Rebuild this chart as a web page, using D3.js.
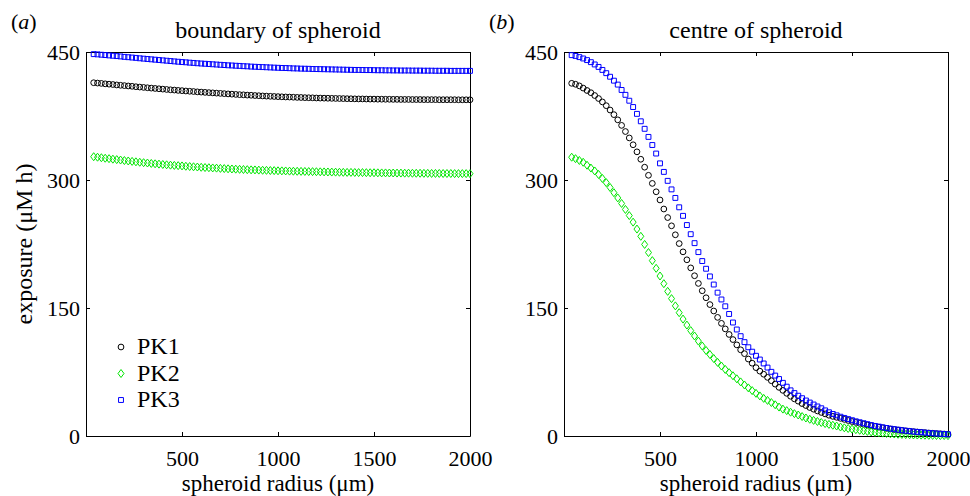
<!DOCTYPE html>
<html>
<head>
<meta charset="utf-8">
<script src="https://cdn.jsdelivr.net/npm/d3@7"></script>
<style>
  body { margin: 0; background: #fff; }
  text { font-family: "Liberation Serif", "Times New Roman", serif; fill: #000; }
</style>
</head>
<body>
<div class="canvas"></div>
<script>
// spheroid radius (um)
const radius = [
  40, 60, 80, 100, 120, 140, 160, 180, 200, 220,
  240, 260, 280, 300, 320, 340, 360, 380, 400, 420,
  440, 460, 480, 500, 520, 540, 560, 580, 600, 620,
  640, 660, 680, 700, 720, 740, 760, 780, 800, 820,
  840, 860, 880, 900, 920, 940, 960, 980, 1000, 1020,
  1040, 1060, 1080, 1100, 1120, 1140, 1160, 1180, 1200, 1220,
  1240, 1260, 1280, 1300, 1320, 1340, 1360, 1380, 1400, 1420,
  1440, 1460, 1480, 1500, 1520, 1540, 1560, 1580, 1600, 1620,
  1640, 1660, 1680, 1700, 1720, 1740, 1760, 1780, 1800, 1820,
  1840, 1860, 1880, 1900, 1920, 1940, 1960, 1980, 2000
];

// exposure at the boundary of the spheroid (uM h)
const boundaryPK1 = [
  414.0, 413.6, 413.2, 412.7, 412.3, 411.9, 411.4, 411.0, 410.6, 410.2,
  409.8, 409.3, 408.9, 408.5, 408.1, 407.7, 407.3, 406.9, 406.5, 406.1,
  405.7, 405.4, 405.0, 404.7, 404.3, 404.0, 403.7, 403.3, 403.0, 402.7,
  402.4, 402.1, 401.8, 401.5, 401.2, 400.9, 400.6, 400.3, 400.0, 399.8,
  399.5, 399.3, 399.0, 398.8, 398.5, 398.3, 398.1, 397.9, 397.7, 397.5,
  397.3, 397.2, 397.0, 396.8, 396.7, 396.5, 396.4, 396.3, 396.1, 396.0,
  395.9, 395.8, 395.7, 395.6, 395.5, 395.4, 395.3, 395.2, 395.1, 395.0,
  395.0, 394.9, 394.8, 394.8, 394.7, 394.7, 394.6, 394.6, 394.5, 394.5,
  394.4, 394.4, 394.4, 394.3, 394.3, 394.3, 394.2, 394.2, 394.2, 394.2,
  394.1, 394.1, 394.1, 394.1, 394.1, 394.0, 394.0, 394.0, 394.0
];
const boundaryPK2 = [
  327.3, 326.7, 326.1, 325.5, 325.0, 324.4, 323.9, 323.4, 322.8, 322.3,
  321.8, 321.3, 320.8, 320.3, 319.9, 319.4, 319.0, 318.6, 318.2, 317.8,
  317.4, 317.1, 316.8, 316.5, 316.1, 315.8, 315.5, 315.2, 314.9, 314.6,
  314.4, 314.1, 313.9, 313.6, 313.4, 313.1, 312.9, 312.7, 312.5, 312.3,
  312.1, 311.9, 311.8, 311.6, 311.4, 311.3, 311.1, 311.0, 310.8, 310.7,
  310.6, 310.4, 310.3, 310.2, 310.1, 310.0, 309.9, 309.8, 309.7, 309.6,
  309.5, 309.4, 309.3, 309.2, 309.1, 309.0, 308.9, 308.9, 308.8, 308.7,
  308.7, 308.6, 308.5, 308.5, 308.4, 308.3, 308.3, 308.2, 308.2, 308.1,
  308.1, 308.0, 308.0, 307.9, 307.9, 307.9, 307.8, 307.8, 307.7, 307.7,
  307.7, 307.6, 307.6, 307.6, 307.5, 307.5, 307.5, 307.5, 307.4
];
const boundaryPK3 = [
  447.5, 447.2, 446.8, 446.4, 446.0, 445.6, 445.2, 444.8, 444.3, 443.9,
  443.5, 443.1, 442.6, 442.2, 441.8, 441.4, 441.0, 440.6, 440.2, 439.8,
  439.4, 439.0, 438.6, 438.2, 437.9, 437.5, 437.2, 436.8, 436.5, 436.2,
  435.9, 435.6, 435.3, 435.0, 434.7, 434.4, 434.2, 433.9, 433.7, 433.4,
  433.2, 432.9, 432.7, 432.5, 432.3, 432.1, 431.9, 431.7, 431.5, 431.3,
  431.2, 431.0, 430.8, 430.7, 430.5, 430.4, 430.3, 430.1, 430.0, 429.9,
  429.8, 429.7, 429.6, 429.5, 429.4, 429.3, 429.2, 429.1, 429.0, 429.0,
  428.9, 428.8, 428.8, 428.7, 428.6, 428.6, 428.5, 428.5, 428.4, 428.4,
  428.3, 428.3, 428.3, 428.2, 428.2, 428.2, 428.1, 428.1, 428.1, 428.0,
  428.0, 428.0, 428.0, 427.9, 427.9, 427.9, 427.9, 427.9, 427.9
];

// exposure at the centre of the spheroid (uM h)
const centrePK1 = [
  413.3, 412.2, 410.3, 407.7, 404.9, 402.3, 399.0, 395.5, 391.5, 387.1,
  382.0, 376.6, 370.5, 364.0, 356.8, 349.3, 341.3, 333.0, 324.3, 315.0,
  305.5, 296.0, 286.2, 276.6, 266.0, 256.0, 246.3, 235.8, 225.5, 215.8,
  206.5, 197.0, 187.8, 178.8, 170.2, 162.0, 154.0, 146.5, 139.0, 132.0,
  125.5, 119.0, 113.0, 106.8, 101.0, 96.5, 90.2, 85.3, 80.1, 76.0,
  72.4, 68.7, 64.8, 60.8, 57.0, 53.5, 50.0, 46.6, 43.5, 40.8,
  38.0, 35.7, 33.4, 31.4, 29.4, 27.6, 25.9, 24.3, 23.0, 21.9,
  20.7, 19.5, 18.2, 17.0, 15.9, 14.8, 13.8, 12.9, 12.0, 11.2,
  10.4, 9.6, 8.9, 8.2, 7.6, 7.0, 6.5, 6.0, 5.5, 5.1,
  4.7, 4.3, 3.9, 3.5, 3.2, 2.9, 2.6, 2.3, 2.0
];
const centrePK2 = [
  326.7, 325.0, 322.9, 320.8, 317.3, 314.0, 310.6, 306.5, 301.8, 296.9,
  291.2, 285.1, 279.0, 272.5, 265.5, 258.3, 250.6, 242.5, 234.0, 224.5,
  215.0, 205.5, 196.5, 187.5, 178.5, 169.5, 161.0, 152.5, 144.5, 137.0,
  130.0, 123.5, 117.2, 111.2, 105.5, 100.2, 95.5, 90.8, 86.3, 82.0,
  78.0, 74.2, 70.6, 67.0, 63.4, 59.8, 56.4, 53.2, 50.0, 47.0,
  44.1, 41.7, 39.2, 36.6, 33.9, 31.5, 29.7, 27.9, 26.2, 24.6,
  22.8, 21.1, 19.6, 18.3, 17.0, 15.8, 14.6, 13.6, 12.6, 11.7,
  10.5, 9.6, 8.8, 8.1, 7.4, 6.7, 6.0, 5.4, 4.8, 4.2,
  3.8, 3.4, 3.0, 2.6, 2.3, 2.0, 1.8, 1.6, 1.4, 1.2,
  1.1, 1.0, 0.9, 0.8, 0.7, 0.6, 0.5, 0.5, 0.4
];
const centrePK3 = [
  446.3, 445.4, 444.0, 442.4, 440.5, 438.1, 435.4, 432.5, 429.0, 425.2,
  421.0, 416.4, 411.8, 405.5, 399.8, 392.9, 385.5, 377.5, 368.8, 360.0,
  350.5, 341.0, 331.0, 319.5, 309.5, 299.0, 289.0, 279.0, 268.0, 258.0,
  247.2, 236.5, 226.0, 215.5, 205.0, 196.0, 187.0, 177.5, 168.0, 160.0,
  152.0, 143.0, 133.0, 124.8, 117.0, 110.0, 104.0, 98.8, 94.0, 89.6,
  85.0, 80.2, 75.2, 70.8, 66.8, 62.3, 57.8, 53.5, 50.3, 47.2,
  44.3, 41.6, 39.2, 36.9, 34.6, 32.5, 30.0, 27.8, 25.8, 24.2,
  22.6, 21.2, 19.8, 18.5, 17.2, 16.1, 15.0, 13.9, 12.8, 11.8,
  11.0, 10.2, 9.4, 8.6, 8.0, 7.4, 6.8, 6.2, 5.7, 5.2,
  4.8, 4.4, 4.0, 3.6, 3.2, 2.9, 2.6, 2.3, 2.0
];

const seriesNames = ["PK1", "PK2", "PK3"];
const xTicks = [500, 1000, 1500, 2000];
const yTicks = [0, 150, 300, 450];

const width = 970;
const height = 496;
const margin = { top: 52 };
const plotW = 384;
const plotH = 384;

// matlab style diamond, a bit taller than wide
const diamond = {
  draw(ctx, size) {
    const h = Math.sqrt(size / 1.5);
    const w = h * 0.75;
    ctx.moveTo(0, -h);
    ctx.lineTo(w, 0);
    ctx.lineTo(0, h);
    ctx.lineTo(-w, 0);
    ctx.closePath();
  }
};

const markers = [
  { color: "#000000", symbol: d3.symbol(d3.symbolCircle, 26) },
  { color: "#00e600", symbol: d3.symbol(diamond, 24) },
  { color: "#0000ff", symbol: d3.symbol(d3.symbolSquare, 24) }
];

const svg = d3
  .select(".canvas")
  .append("svg")
  .attr("width", width)
  .attr("height", height);

const panels = [
  { tag: "a", title: "boundary of spheroid", left: 86, data: [boundaryPK1, boundaryPK2, boundaryPK3], legend: true },
  { tag: "b", title: "centre of spheroid", left: 564, data: [centrePK1, centrePK2, centrePK3], legend: false }
];

const x = d3.scaleLinear().domain([0, 2000]).range([0, plotW]);
const y = d3.scaleLinear().domain([0, 450]).range([plotH, 0]);

const styleAxis = (g) => {
  g.attr("font-family", '"Liberation Serif", serif').attr("font-size", 22);
  g.selectAll("path, line").attr("stroke", "#000").attr("stroke-width", 1);
};

panels.forEach((p) => {
  const graph = svg
    .append("g")
    .attr("transform", `translate(${p.left}, ${margin.top})`);

  // axes, ticks pointing inward on all four sides
  graph
    .append("g")
    .attr("transform", `translate(0, ${plotH})`)
    .call(d3.axisBottom(x).tickValues(xTicks).tickFormat(d3.format("d")).tickSizeInner(-4).tickSizeOuter(0).tickPadding(14))
    .call(styleAxis);

  graph
    .append("g")
    .call(d3.axisLeft(y).tickValues(yTicks).tickFormat(d3.format("d")).tickSizeInner(-4).tickSizeOuter(0).tickPadding(6))
    .call(styleAxis);

  graph
    .append("g")
    .call(d3.axisTop(x).tickValues(xTicks).tickSizeInner(-4).tickSizeOuter(0).tickFormat(""))
    .call(styleAxis);

  graph
    .append("g")
    .attr("transform", `translate(${plotW}, 0)`)
    .call(d3.axisRight(y).tickValues(yTicks).tickSizeInner(-4).tickSizeOuter(0).tickFormat(""))
    .call(styleAxis);

  // markers
  p.data.forEach((values, k) => {
    graph
      .append("g")
      .selectAll("path")
      .data(values)
      .enter()
      .append("path")
      .attr("d", markers[k].symbol)
      .attr("transform", (d, i) => `translate(${x(radius[i])}, ${y(d)})`)
      .attr("fill", "none")
      .attr("stroke", markers[k].color)
      .attr("stroke-width", 1);
  });

  // title and panel tag
  svg
    .append("text")
    .attr("x", p.left + plotW / 2)
    .attr("y", 38)
    .attr("text-anchor", "middle")
    .attr("font-size", 24)
    .text(p.title);

  const tag = svg
    .append("text")
    .attr("x", p.left - 75)
    .attr("y", 29)
    .attr("font-size", 22);
  tag.append("tspan").text("(");
  tag.append("tspan").attr("font-style", "italic").text(p.tag);
  tag.append("tspan").text(")");

  // x axis label
  svg
    .append("text")
    .attr("x", p.left + plotW / 2)
    .attr("y", 491)
    .attr("text-anchor", "middle")
    .attr("font-size", 23)
    .text("spheroid radius (\u03bcm)");

  if (p.legend) {
    const legend = graph
      .append("g")
      .attr("transform", "translate(35, 295)");

    seriesNames.forEach((name, k) => {
      const row = legend.append("g").attr("transform", `translate(0, ${k * 26.5})`);
      row
        .append("path")
        .attr("d", markers[k].symbol)
        .attr("fill", "none")
        .attr("stroke", markers[k].color)
        .attr("stroke-width", 1);
      row
        .append("text")
        .attr("x", 16)
        .attr("y", 7)
        .attr("font-size", 24)
        .text(name);
    });
  }
});

// y axis label
svg
  .append("text")
  .attr("transform", "translate(32, 244) rotate(-90)")
  .attr("text-anchor", "middle")
  .attr("font-size", 24)
  .text("exposure (\u03bcM h)");
</script>
</body>
</html>
